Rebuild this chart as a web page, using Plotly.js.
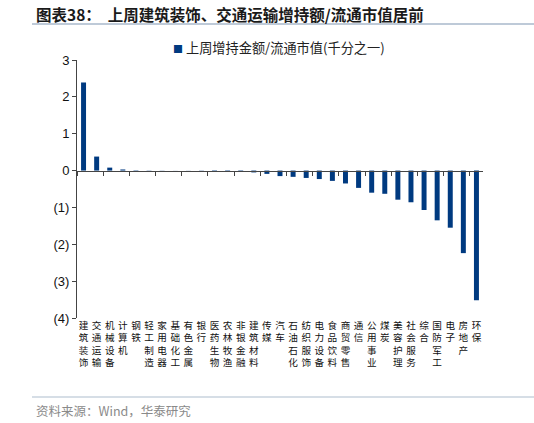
<!DOCTYPE html>
<html>
<head>
<meta charset="utf-8">
<script src="https://cdn.plot.ly/plotly-3.0.1.min.js"></script>
<style>
  html, body { margin: 0; padding: 0; background: #fff; }
  #chart { width: 534px; height: 423px; }
</style>
</head>
<body>
<div id="chart"></div>
<script>
  // Sectors, in the order shown on the chart
  const sectors = [
    "建筑装饰", "交通运输", "机械设备", "计算机", "钢铁", "轻工制造", "家用电器",
    "基础化工", "有色金属", "银行", "医药生物", "农林牧渔", "非银金融", "建筑材料",
    "传媒", "汽车", "石油石化", "纺织服饰", "电力设备", "食品饮料", "商贸零售",
    "通信", "公用事业", "煤炭", "美容护理", "社会服务", "综合", "国防军工",
    "电子", "房地产", "环保",
  ];
  // Last week's net increase / free-float market cap (per mille)
  const ratio = [
    2.39, 0.38, 0.08, 0.03, 0.01, 0.006, 0.004,
    0.002, -0.003, -0.006, -0.012, -0.018, -0.03, -0.05,
    -0.09, -0.15, -0.17, -0.2, -0.23, -0.28, -0.35,
    -0.47, -0.6, -0.63, -0.79, -0.86, -1.07, -1.35,
    -1.55, -2.24, -3.52,
  ];
  const seriesName = "上周增持金额/流通市值(千分之一)";
  const yTicks = [3, 2, 1, 0, -1, -2, -3, -4];
  const yTickText = yTicks.map((v) => (v < 0 ? `(${-v})` : String(v)));

  const NAVY = "#003A80";
  const CJK = "Noto Sans CJK SC, sans-serif";
  const yMin = -4, yMax = 3;

  // one character per line, like the vertical labels of the original
  const vertical = (s) => s.split("").join("<br>");

  const traces = [
    {
      type: "bar", x: sectors, y: ratio, name: seriesName,
      marker: { color: NAVY, line: { width: 0 } },
      showlegend: false, hoverinfo: "x+y",
    },
    {
      // carries the bottom label axis only
      type: "scatter", mode: "none", x: sectors, y: ratio.map(() => 0),
      xaxis: "x2", showlegend: false, hoverinfo: "skip",
    },
  ];

  // pixel geometry of the plot area, used for placing header / footer
  const W = 534, H = 423, L = 77, R = 51, T = 60, B = 105;
  const pw = W - L - R, ph = H - T - B;
  const px = (x) => (x - L) / pw;
  const py = (y) => (H - B - y) / ph;

  const lay = {
    width: W, height: H,
    margin: { l: L, r: R, t: T, b: B },
    paper_bgcolor: "#fff", plot_bgcolor: "#fff",
    font: { family: CJK, color: "#000" },
    bargap: 0.62,
    showlegend: false,
    xaxis: {
      type: "category", range: [-0.5, sectors.length - 0.5],
      anchor: "free", position: (0 - yMin) / (yMax - yMin),
      showline: true, linecolor: "#444", linewidth: 1,
      ticks: "outside", tickson: "boundaries", ticklen: 4, tickcolor: "#444",
      showticklabels: false, showgrid: false, zeroline: false, fixedrange: true,
    },
    xaxis2: {
      type: "category", overlaying: "x", anchor: "y", side: "bottom",
      categoryorder: "array", categoryarray: sectors,
      range: [-0.5, sectors.length - 0.5],
      showline: false, ticks: "", showgrid: false, zeroline: false,
      tickvals: sectors, ticktext: sectors.map(vertical),
      tickfont: { family: CJK, size: 9.6, color: "#111" },
      tickangle: 0, fixedrange: true,
    },
    yaxis: {
      range: [yMin, yMax],
      tickvals: yTicks, ticktext: yTickText,
      tickfont: { family: "Liberation Sans, Arial, sans-serif", size: 13, color: "#111" },
      showline: true, linecolor: "#444", linewidth: 1,
      ticks: "outside", ticklen: 4, tickcolor: "#444",
      showgrid: false, zeroline: false, fixedrange: true,
    },
    shapes: [
      { type: "line", xref: "paper", yref: "paper", x0: px(32), x1: px(534), y0: py(24), y1: py(24),
        line: { color: "#A9B9CB", width: 1.5 } },
      { type: "line", xref: "paper", yref: "paper", x0: px(32), x1: px(534), y0: py(397), y1: py(397),
        line: { color: "#C9D3DE", width: 1.5 } },
    ],
    annotations: [
      { xref: "paper", yref: "paper", x: px(34), y: py(14), xanchor: "left", yanchor: "middle",
        showarrow: false, text: "<b>图表38：  上周建筑装饰、交通运输增持额/流通市值居前</b>",
        font: { family: CJK, size: 15.5, color: "#1a1a1a" } },
      // legend entry
      { xref: "paper", yref: "paper", x: px(171), y: py(48), xanchor: "left", yanchor: "middle",
        showarrow: false,
        text: `<span style="color:${NAVY};font-size:10px">■</span> ${seriesName}`,
        font: { family: CJK, size: 13.2, color: "#222" } },
      { xref: "paper", yref: "paper", x: px(34), y: py(410), xanchor: "left", yanchor: "middle",
        showarrow: false, text: "资料来源：Wind，华泰研究",
        font: { family: CJK, size: 12.5, color: "#8a8a8a" } },
    ],
  };

  Plotly.newPlot("chart", traces, lay, { displayModeBar: false, staticPlot: true });
</script>
</body>
</html>
